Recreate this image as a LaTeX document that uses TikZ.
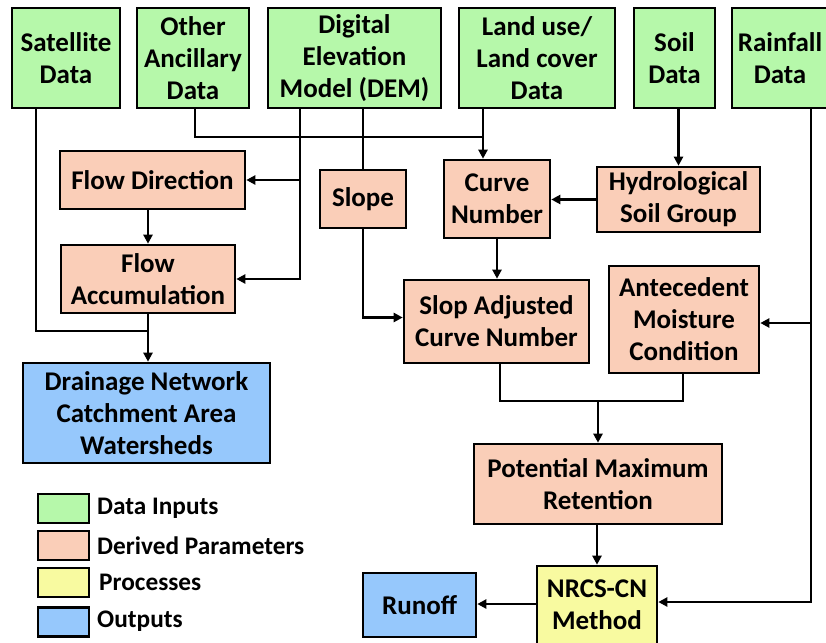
\documentclass[tikz,border=0pt]{standalone}
\usepackage{fontspec}
\setmainfont{Carlito}
\usetikzlibrary{arrows.meta}
\definecolor{ingreen}{RGB}{182,248,170}
\definecolor{derpeach}{RGB}{250,206,184}
\definecolor{procyellow}{RGB}{248,250,160}
\definecolor{outblue}{RGB}{150,200,252}
\begin{document}
\begin{tikzpicture}[x=1pt,y=-1pt,
  box/.style={draw=black,line width=2.6pt,align=center,inner sep=0pt,
    font=\fontsize{27}{32}\selectfont\bfseries},
  inbox/.style={box,fill=ingreen},
  derbox/.style={box,fill=derpeach},
  procbox/.style={box,fill=procyellow},
  outbox/.style={box,fill=outblue},
  swatch/.style={draw=black,line width=2.6pt,minimum width=51pt,minimum height=29pt,inner sep=0pt},
  legtext/.style={anchor=west,inner sep=0pt,font=\fontsize{25.3}{28}\selectfont\bfseries},
  link/.style={line width=2.6pt},
  arr/.style={link,-{Triangle[length=9pt,width=9pt]}}]
\useasboundingbox (0,0) rectangle (826,642);

% data inputs
\node[inbox,minimum width=108pt,minimum height=100pt] (sat) at (66,58) {Satellite\\Data};
\node[inbox,minimum width=112pt,minimum height=100pt] (anc) at (193,58) {Other\\Ancillary\\Data};
\node[inbox,minimum width=173pt,minimum height=100pt] (dem) at (354.5,58) {Digital\\Elevation\\Model (DEM)};
\node[inbox,minimum width=156pt,minimum height=100pt] (lulc) at (537,58) {Land use/\\Land cover\\Data};
\node[inbox,minimum width=81pt,minimum height=100pt] (soil) at (674.5,58) {Soil\\Data};
\node[inbox,minimum width=96pt,minimum height=100pt] (rain) at (780,58) {Rainfall\\Data};

% derived parameters
\node[derbox,minimum width=185pt,minimum height=58pt] (fdir) at (152.5,180) {Flow Direction};
\node[derbox,minimum width=174pt,minimum height=68pt] (facc) at (148,279) {Flow\\Accumulation};
\node[derbox,minimum width=86pt,minimum height=58pt] (slope) at (363,199) {Slope};
\node[derbox,minimum width=106pt,minimum height=78pt] (cn) at (497,199) {Curve\\Number};
\node[derbox,minimum width=163pt,minimum height=65pt] (hsg) at (678.5,199.5) {Hydrological\\Soil Group};
\node[derbox,minimum width=185pt,minimum height=83pt] (sacn) at (496.5,321.5) {Slop Adjusted\\Curve Number};
\node[derbox,minimum width=150pt,minimum height=107pt] (amc) at (684,319.5) {Antecedent\\Moisture\\Condition};
\node[derbox,minimum width=248pt,minimum height=80pt] (pmr) at (598,484) {Potential Maximum\\Retention};

% process and outputs
\node[procbox,minimum width=120pt,minimum height=78pt] (nrcs) at (597,605) {NRCS-CN\\Method};
\node[outbox,minimum width=247pt,minimum height=100pt] (drain) at (146.5,413) {Drainage Network\\Catchment Area\\Watersheds};
\node[outbox,minimum width=113pt,minimum height=64pt] (runoff) at (419.5,605) {Runoff};

% junction points of the connectors
\coordinate (satx) at (36,331);
\coordinate (accmerge) at (148,331);
\coordinate (ancx) at (195,137);
\coordinate (lux) at (483,137);
\coordinate (demx) at (300,0);
\coordinate (pmrmerge) at (598,401);
\coordinate (sacnx) at (500,401);
\coordinate (amcx) at (683,401);
\coordinate (rainx) at (811,0);
\coordinate (sacnin) at ([yshift=4pt]sacn.west);
\coordinate (amcin) at ([yshift=-3.5pt]amc.east);
\coordinate (nrcsin) at ([yshift=3pt]nrcs.east);
\coordinate (nrcsout) at ([yshift=1pt]nrcs.west);

% drainage branch
\draw[link] (sat.south -| satx) |- (accmerge);
\draw[arr] (facc.south) -- (facc.south |- drain.north);
\draw[arr] (fdir.south -| facc.north) -- (facc.north);
\draw[arr] (dem.south -| demx) |- (facc.east);
\draw[arr] (demx |- fdir.east) -- (fdir.east);

% curve number branch
\draw[link] (anc.south -| ancx) |- (lux);
\draw[arr] (lulc.south -| lux) -- (cn.north -| lux);
\draw[link] (dem.south -| slope.north) -- (slope.north);
\draw[arr] (slope.south) |- (sacnin);
\draw[arr] (hsg.north |- soil.south) -- (hsg.north);
\draw[arr] (hsg.west) -- (cn.east |- hsg.west);
\draw[arr] (cn.south) -- (cn.south |- sacn.north);

% retention and runoff
\draw[link] (sacn.south -| sacnx) |- (amcx) -- (amc.south -| amcx);
\draw[arr] (pmrmerge) -- (pmr.north -| pmrmerge);
\draw[arr] (pmr.south -| nrcs.north) -- (nrcs.north);
\draw[arr] (rain.south -| rainx) |- (nrcsin);
\draw[arr] (rainx |- amcin) -- (amcin);
\draw[arr] (nrcsout) -- (runoff.east |- nrcsout);

% legend
\node[swatch,fill=ingreen] (lg1) at (63.5,508.5) {};
\node[swatch,fill=derpeach] (lg2) at (63.5,545.5) {};
\node[swatch,fill=procyellow] (lg3) at (63.5,582.5) {};
\node[swatch,fill=outblue] (lg4) at (63.5,622) {};
\node[legtext] (lt1) at (97,508.5) {Data Inputs};
\node[legtext] (lt2) at (97,546) {Derived Parameters};
\node[legtext] (lt3) at (99,582.5) {Processes};
\node[legtext] (lt4) at (97,621) {Outputs};
\end{tikzpicture}
\end{document}
